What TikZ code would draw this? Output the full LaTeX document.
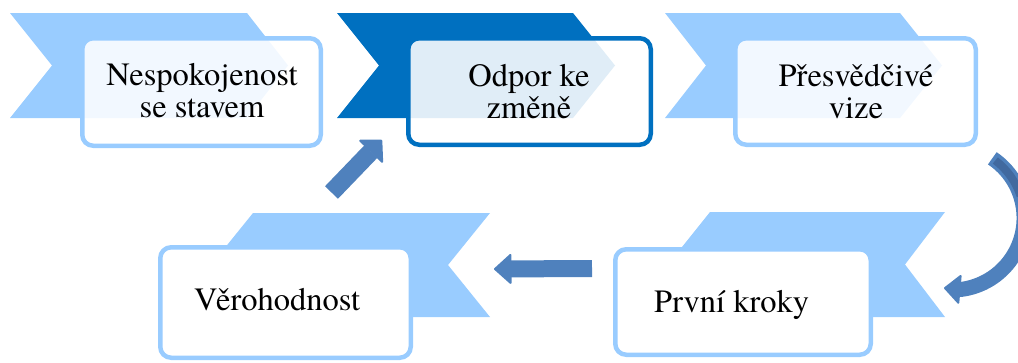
\documentclass[tikz,border=0pt]{standalone}
\usepackage{fontspec}
\setmainfont{texgyretermes}[Extension=.otf, UprightFont=*-regular,
  BoldFont=*-bold, ItalicFont=*-italic, BoldItalicFont=*-bolditalic]
\usetikzlibrary{arrows.meta}
\definecolor{chevlight}{HTML}{99CCFF}
\definecolor{chevdark}{HTML}{0070C0}
\definecolor{arrowblue}{HTML}{4F81BD}
\definecolor{arrowshade}{HTML}{41699F}
\begin{document}
\begin{tikzpicture}[x=1pt,y=-1pt,
  chevron/.style={fill=chevlight, draw=none},
  chevrondark/.style={fill=chevdark, draw=none},
  stepbox/.style={draw=chevlight, line width=4.5pt, rounded corners=11pt,
    fill=white, inner sep=0pt},
  steptop/.style={stepbox, fill opacity=0.88},
  steplabel/.style={font=\rmfamily\fontsize{32.5}{32}\selectfont, align=center, inner sep=0pt},
  blockarrow/.style={draw=arrowblue, line cap=butt, line join=round},
]
\clip (0,0) rectangle (1018,362);

% ribbons behind the top row (pointing right)
\fill[chevron] (10,13) -- (247,13) -- (288,65.5) -- (247,118) -- (10,118) -- (52,65.5) -- cycle;
\fill[chevrondark] (337,13) -- (573,13) -- (615,65.5) -- (573,118) -- (337,118) -- (379,65.5) -- cycle;
\fill[chevron] (665,13) -- (900,13) -- (942,65.5) -- (900,118) -- (665,118) -- (706,65.5) -- cycle;

% ribbons behind the bottom row (pointing left)
\fill[chevron] (211,265) -- (253,213) -- (490,213) -- (448,265) -- (490,317) -- (253,317) -- cycle;
\fill[chevron] (668,264.5) -- (710,212) -- (945,212) -- (905,264.5) -- (945,317) -- (710,317) -- cycle;

% step boxes
\node[steptop, minimum width=238.5pt, minimum height=107.5pt] (b1) at (201.5,92) {};
\node[steptop, draw=chevdark, minimum width=242.5pt, minimum height=106.5pt] (b2) at (529.5,91.5) {};
\node[steptop, minimum width=240.5pt, minimum height=106.5pt] (b3) at (855.5,91.5) {};
\node[stepbox, minimum width=250.5pt, minimum height=110.5pt] (b4) at (285.5,302.5) {};
\node[stepbox, minimum width=255.5pt, minimum height=105.5pt] (b5) at (743,302) {};

% labels
\node[steplabel] (t1) at (202,90.9) {Nespokojenost\\se stavem};
\node[steplabel] (t2) at (529,91.4) {Odpor ke\\změně};
\node[steplabel] (t3) at (856,91.4) {Přesvědčivé\\vize};
\node[steplabel, anchor=base west] (t4) at (194,310) {Věrohodnost};
\node[steplabel, anchor=base west] (t5) at (654,312) {První kroky};

% block arrows between the steps
\coordinate (a1s) at (331.5,192.5);
\coordinate (a1e) at (382,140);
\draw[blockarrow, line width=18pt,
  -{Triangle[width=35pt,length=17pt,line width=2pt,round]}] (a1s) -- (a1e);

\coordinate (a2s) at (592,268.5);
\coordinate (a2e) at (494,269);
\draw[blockarrow, line width=17pt,
  -{Triangle[width=32pt,length=18pt,line width=2pt,round]}] (a2s) -- (a2e);

% curved arrow from the third step down to the fifth
\coordinate (c3s) at (992.3,158.3);
\coordinate (c3d) at (995.3,160.5);
\coordinate (c3e) at (944,288);
\draw[blockarrow, line width=15pt,
  -{Triangle[width=31pt,length=17pt,line width=2pt,round]}]
  (c3s) arc[start angle=-56, end angle=83, radius=72] -- (c3e);
\draw[draw=arrowshade, line width=8pt] (c3d) arc[start angle=-53, end angle=-18, radius=72];
\end{tikzpicture}
\end{document}
